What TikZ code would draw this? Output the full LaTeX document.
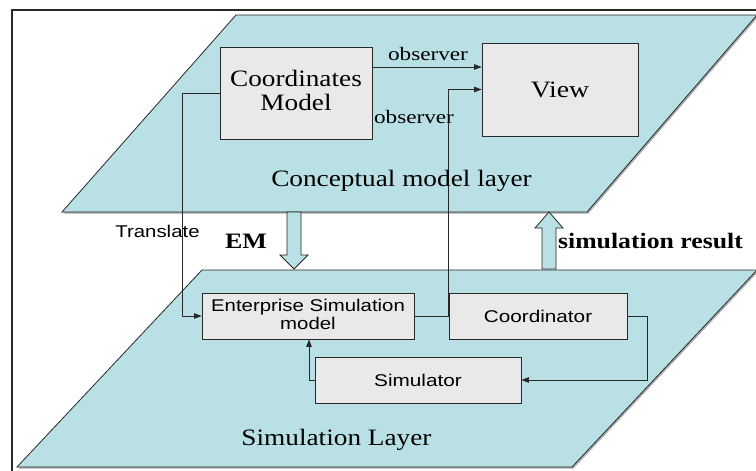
\documentclass[tikz,border=0pt]{standalone}
\usepackage{fontspec}
\setmainfont{Liberation Serif}
\newfontfamily\arialf{Liberation Sans}
\usepackage{graphicx}
\usetikzlibrary{arrows.meta}
\definecolor{layerc}{RGB}{185,224,228}
\definecolor{boxc}{RGB}{233,233,233}
\definecolor{linec}{RGB}{40,40,40}
\newcommand\sx[2][1.2]{\scalebox{#1}[1]{#2}}
\begin{document}
\begin{tikzpicture}[x=1pt,y=-1pt,
  layer/.style={fill=layerc,draw=linec,line width=0.8pt,line join=miter},
  shadowc/.style={fill=gray!65,draw=none},
  boxn/.style={draw=linec,fill=boxc,line width=0.8pt,inner sep=0pt,align=center},
  arr/.style={draw=linec,line width=0.8pt,-{Triangle[length=7.5pt,width=5.5pt]}},
  ln/.style={draw=linec,line width=0.8pt},
  blk/.style={fill=layerc,draw=gray!30!black,line width=0.8pt},
  serifbig/.style={font=\fontsize{23.5}{26}\selectfont},
  obsf/.style={font=\fontsize{19}{22}\selectfont},
  boldf/.style={font=\fontsize{22}{26}\selectfont\bfseries},
  sansf/.style={font=\fontsize{17}{20}\selectfont\arialf}
]
\useasboundingbox (0,0) rectangle (756,471);
\fill[white] (0,0) rectangle (756,471);
\draw[line width=1.2pt,draw=linec] (12,10) rectangle (770,480);

% upper layer
\fill[shadowc] (63.5,213.5) -- (588.5,213.5) -- (758.5,16.5) -- (237.5,16.5) -- cycle;
\draw[layer] (62,212) -- (587,212) -- (757,15) -- (236,15) -- cycle;
% lower layer
\fill[shadowc] (18.5,468.5) -- (573.5,468.5) -- (758.5,271.5) -- (203.5,271.5) -- cycle;
\draw[layer] (17,467) -- (572,467) -- (757,270) -- (202,270) -- cycle;

% block arrows
\draw[blk] (287,212) -- (301,212) -- (301,255) -- (308,255) -- (294,269) -- (280,255) -- (287,255) -- cycle;
\draw[blk] (542,269) -- (556,269) -- (556,228) -- (563,228) -- (549,212) -- (535,228) -- (542,228) -- cycle;

% boxes
\node[boxn,serifbig,minimum width=152pt,minimum height=92pt] (cm) at (296,93)
  {\sx[1.16]{\begin{tabular}{@{}c@{}}Coordinates\\[-2pt]Model\end{tabular}}};
\node[boxn,serifbig,minimum width=156pt,minimum height=93pt] (view) at (560,89.5)
  {\sx[1.18]{View}};
\node[boxn,sansf,minimum width=212pt,minimum height=46pt] (esm) at (308,316)
  {\sx[1.2]{\begin{tabular}{@{}c@{}}Enterprise Simulation\\[-2pt]model\end{tabular}}};
\node[boxn,sansf,minimum width=178pt,minimum height=46pt] (coord) at (538,316)
  {\sx[1.22]{Coordinator}};
\node[boxn,sansf,minimum width=206pt,minimum height=46pt] (sim) at (418,380)
  {\sx[1.22]{Simulator}};

% connectors
\draw[arr] ([yshift=26pt]cm.east) -- ([yshift=26pt]cm.east -| view.west);
\draw[ln] (esm.east) -- (coord.west);
\draw[arr] (coord.west) |- (view.west);
\coordinate (tl) at (182,93);
\draw[arr] (cm.west) -- (tl) |- (esm.west);
\coordinate (cr) at (647,316);
\draw[arr] (coord.east) -- (cr) |- (sim.east);
\coordinate (sl) at (309,380);
\draw[arr] (sim.west) -- (sl) -- (sl |- esm.south);

% labels
\node[obsf,anchor=base] (o1) at (428,60) {\sx[1.22]{observer}};
\node[obsf,anchor=base] (o2) at (414,123) {\sx[1.22]{observer}};
\node[serifbig,anchor=base] (lc) at (401.5,186) {\sx[1.16]{Conceptual model layer}};
\node[serifbig,anchor=base] (ls) at (336.5,445) {\sx[1.16]{Simulation Layer}};
\node[boldf,anchor=base] (em) at (246,248) {\sx[1.18]{EM}};
\node[boldf,anchor=base] (sr) at (650.5,248) {\sx[1.17]{simulation result}};
\node[sansf,anchor=base] (tr) at (157.5,237) {\sx[1.2]{Translate}};
\end{tikzpicture}
\end{document}
